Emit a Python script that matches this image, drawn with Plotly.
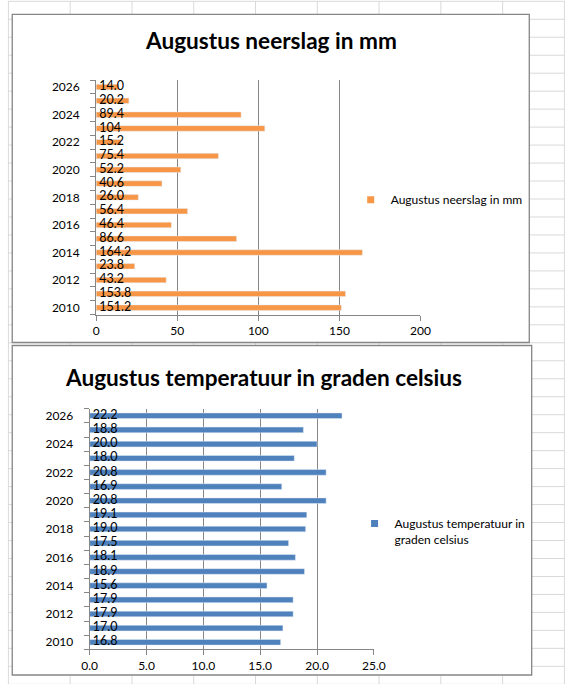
import plotly.graph_objects as go

jaren = list(range(2010, 2027))
neerslag = [151.2, 153.8, 43.2, 23.8, 164.2, 86.6, 46.4, 56.4, 26.0, 40.6, 52.2, 75.4, 15.2, 104, 89.4, 20.2, 14.0]
temperatuur = [16.8, 17.0, 17.9, 17.9, 15.6, 18.9, 18.1, 17.5, 19.0, 19.1, 20.8, 16.9, 20.8, 18.0, 20.0, 18.8, 22.2]
jaar_ticks = list(range(2010, 2027, 2))

naam1 = "Augustus neerslag in mm"
naam2 = "Augustus temperatuur in graden celsius"

oranje = "#F79646"
blauw = "#4F81BD"
grijs = "#868686"
font = "Lato"
W, H = 577, 684


def lbl(v):
    # Excel liet 104 zonder decimaal zien
    s = str(v) if isinstance(v, int) else f"{v:.1f}"
    return "\u00a0" + s


def px(x):
    return x / W


def py(y):
    return 1 - y / H


fig = go.Figure()

# grafiek 1
fig.add_trace(go.Bar(x=neerslag, y=jaren, orientation="h", marker_color=oranje,
                     width=0.4, showlegend=False, xaxis="x", yaxis="y", hoverinfo="x+y"))
fig.add_trace(go.Scatter(x=[0] * len(jaren), y=jaren, mode="text", text=[lbl(v) for v in neerslag],
                         textposition="middle right", textfont=dict(size=12.5, color="black", family=font),
                         showlegend=False, cliponaxis=False, hoverinfo="skip", xaxis="x", yaxis="y"))
fig.add_trace(go.Scatter(x=[None], y=[None], mode="markers", name=naam1, legend="legend",
                         marker=dict(symbol="square", size=7, color=oranje), xaxis="x", yaxis="y"))

# grafiek 2
fig.add_trace(go.Bar(x=temperatuur, y=jaren, orientation="h", marker_color=blauw,
                     width=0.4, showlegend=False, xaxis="x2", yaxis="y2", hoverinfo="x+y"))
fig.add_trace(go.Scatter(x=[0] * len(jaren), y=jaren, mode="text", text=[lbl(v) for v in temperatuur],
                         textposition="middle right", textfont=dict(size=12.5, color="black", family=font),
                         showlegend=False, cliponaxis=False, hoverinfo="skip", xaxis="x2", yaxis="y2"))
fig.add_trace(go.Scatter(x=[None], y=[None], mode="markers", name="Augustus temperatuur in<br>graden celsius",
                         legend="legend2", marker=dict(symbol="square", size=7, color=blauw),
                         xaxis="x2", yaxis="y2"))

xas = dict(showgrid=True, gridcolor=grijs, gridwidth=1, showline=True, linecolor=grijs, linewidth=1,
           ticks="outside", ticklen=5, tickcolor=grijs, zeroline=False,
           tickfont=dict(size=12, color="black", family=font), fixedrange=True)
yas = dict(range=[2009.5, 2026.5], tickvals=jaar_ticks, ticks="", showgrid=False, zeroline=False,
           showline=True, linecolor=grijs, linewidth=1, ticklabelstandoff=13,
           minor=dict(ticks="outside", ticklen=5, tickcolor=grijs, tick0=2009.5, dtick=1, showgrid=False),
           tickfont=dict(size=12, color="black", family=font), fixedrange=True)

# spreadsheet achtergrond
shapes = []
for k in range(10):
    shapes.append(dict(type="line", xref="paper", yref="paper", x0=px(0.4 + 64 * k), x1=px(0.4 + 64 * k),
                       y0=0, y1=1, line=dict(color="#d9d9d9", width=1), layer="below"))
for k in range(39):
    shapes.append(dict(type="line", xref="paper", yref="paper", x0=0, x1=1,
                       y0=py(0.3 + 18 * k), y1=py(0.3 + 18 * k), line=dict(color="#d9d9d9", width=1),
                       layer="below"))
for (x0, y0, x1, y1) in [(4.4, 13.3, 540, 342), (4.4, 345, 542.5, 675)]:
    shapes.append(dict(type="rect", xref="paper", yref="paper", x0=px(x0), x1=px(x1), y0=py(y1), y1=py(y0),
                       fillcolor="white", line=dict(color=grijs, width=1.3), layer="below"))

fig.update_layout(
    width=W, height=H, margin=dict(l=0, r=0, t=0, b=0),
    paper_bgcolor="white", plot_bgcolor="rgba(0,0,0,0)",
    bargap=0.6, shapes=shapes,
    xaxis=dict(xas, domain=[px(91.3), px(427.3)], range=[0, 200], dtick=50, anchor="y"),
    yaxis=dict(yas, domain=[py(314), py(79.3)], anchor="x"),
    xaxis2=dict(xas, domain=[px(84.6), px(379)], range=[0, 25], dtick=5, tickformat=".1f", anchor="y2"),
    yaxis2=dict(yas, domain=[py(649.3), py(408.3)], anchor="x2"),
    legend=dict(x=px(355), y=py(199), xanchor="left", yanchor="middle", bgcolor="rgba(0,0,0,0)",
                font=dict(size=12, color="black", family=font)),
    legend2=dict(x=px(359), y=py(509), xanchor="left", yanchor="top", valign="top", bgcolor="rgba(0,0,0,0)",
                 font=dict(size=12, color="black", family=font), tracegroupgap=0),
    annotations=[
        dict(text="<b>" + naam1 + "</b>", x=px(272), y=py(40), xref="paper", yref="paper",
             xanchor="center", yanchor="middle", showarrow=False,
             font=dict(size=22.6, color="black", family=font)),
        dict(text="<b>" + naam2 + "</b>", x=px(265), y=py(377), xref="paper", yref="paper",
             xanchor="center", yanchor="middle", showarrow=False,
             font=dict(size=22.6, color="black", family=font)),
    ],
)

fig.write_html("out.html", config={"displayModeBar": False},
               post_script="document.documentElement.style.overflow='hidden';"
                           "document.body.style.margin='0';document.body.style.overflow='hidden';")
